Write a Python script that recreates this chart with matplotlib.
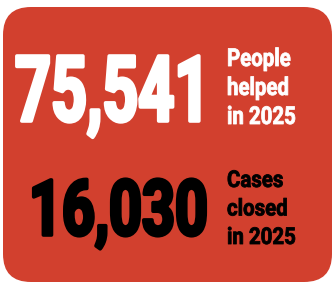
import matplotlib
matplotlib.use("Agg")
import matplotlib.pyplot as plt
from matplotlib.patches import FancyBboxPatch
from matplotlib.patheffects import AbstractPathEffect
from matplotlib.transforms import Affine2D

numbers = ["75,541", "16,030"]
labels = [["People", "helped", "in 2025"], ["Cases", "closed", "in 2025"]]
colors = ["white", "black"]

bg = "#d2402e"
W, H = 333, 286
CAP = 0.711  # Roboto cap height / em


class Tall(AbstractPathEffect):
    # stretch the glyphs upward from the baseline and thicken them a bit,
    # stands in for a condensed heavy face that is not installed
    def __init__(self, sy, y0, lw):
        super().__init__()
        self.sy = sy
        self.y0 = y0
        self.lw = lw

    def draw_path(self, renderer, gc, tpath, affine, rgbFace=None):
        t = affine + Affine2D().translate(0, -self.y0).scale(1, self.sy).translate(0, self.y0)
        g = renderer.new_gc()
        g.copy_properties(gc)
        g.set_linewidth(self.lw)
        g.set_foreground(rgbFace)
        g.set_joinstyle("round")
        renderer.draw_path(g, tpath, t, rgbFace)
        g.restore()


fig = plt.figure(figsize=(W / 100, H / 100), dpi=100)
ax = fig.add_axes([0, 0, 1, 1])
ax.set_xlim(0, W)
ax.set_ylim(H, 0)
ax.axis("off")

r = 28
box = FancyBboxPatch((3 + r, 7 + r), 332 - 3 - 2 * r, 282 - 7 - 2 * r,
                     boxstyle="round,pad=%d" % r, fc=bg, ec="none")
ax.add_patch(box)
rend = fig.canvas.get_renderer()


def fit(items, width_text, w, h, lw):
    # size items so width_text is w px wide, then stretch to cap height h px
    for _ in range(3):
        bb = width_text.get_window_extent(rend)
        fs = width_text.get_fontsize() * w / bb.width
        for t in items:
            t.set_fontsize(fs)
    cap_px = CAP * fs * 100 / 72
    sy = h / cap_px
    for t in items:
        y0 = ax.transData.transform(t.get_position())[1]
        t.set_path_effects([Tall(sy, y0, lw)])


# big numbers: (x, baseline, width px, cap height px)
for s, c, x, y, w, h in [(numbers[0], colors[0], 15, 121, 195, 65),
                         (numbers[1], colors[1], 29, 235, 179, 55)]:
    t = ax.text(x, y, s, fontsize=40, fontweight="bold", family="Roboto",
                color=c, ha="left", va="baseline")
    fit([t], t, w, h, 2.6)

# labels beside the numbers: (first baseline, line step, cap height)
for lines, c, y0, step, h in [(labels[0], colors[0], 66, 29, 17.5),
                              (labels[1], colors[1], 187, 28.5, 16.5)]:
    ts = []
    for i, line in enumerate(lines):
        ts.append(ax.text(227, y0 + i * step, line, fontsize=15, fontweight="bold",
                          family="Roboto", color=c, ha="left", va="baseline"))
    fit(ts, ts[-1], 69, h, 0.6)

fig.savefig("out.png", dpi=100)
